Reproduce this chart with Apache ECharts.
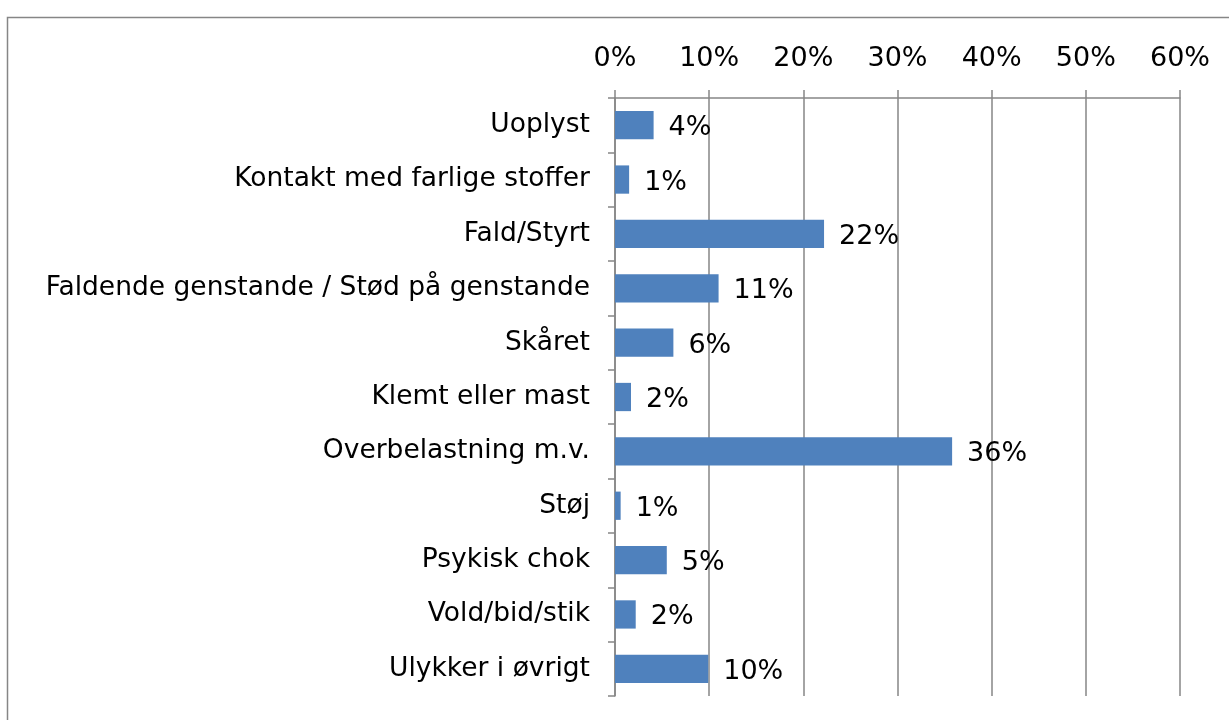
<!DOCTYPE html>
<html>
<head>
<meta charset="utf-8">
<script src="https://cdn.jsdelivr.net/npm/echarts@6/dist/echarts.min.js"></script>
<style>
  html, body { margin: 0; padding: 0; background: #fff; }
  #main { width: 1229px; height: 720px; }
</style>
</head>
<body>
<div id="main"></div>
<script>
// kategorier, oppefra og ned
var categories = [
    'Uoplyst',
    'Kontakt med farlige stoffer',
    'Fald/Styrt',
    'Faldende genstande / Stød på genstande',
    'Skåret',
    'Klemt eller mast',
    'Overbelastning m.v.',
    'Støj',
    'Psykisk chok',
    'Vold/bid/stik',
    'Ulykker i øvrigt'
];
// andele i procent (aflæst fra søjlerne)
var values = [4.1, 1.5, 22.2, 11.0, 6.2, 1.7, 35.8, 0.6, 5.5, 2.2, 9.9];
// tekst ved søjlerne
var valueLabels = ['4%', '1%', '22%', '11%', '6%', '2%', '36%', '1%', '5%', '2%', '10%'];
var tickLabels = ['0%', '10%', '20%', '30%', '40%', '50%', '60%'];

var myChart = echarts.init(document.getElementById('main'));
var font = 'Verdana, "DejaVu Sans", sans-serif';

myChart.setOption({
    animation: false,
    textStyle: { fontFamily: font },
    graphic: [{
        type: 'rect',
        shape: { x: 7.5, y: 17.5, width: 1240, height: 720 },
        style: { fill: 'none', stroke: '#868686', lineWidth: 1.5 }
    }],
    grid: { left: 615, right: 49, top: 98, bottom: 24 },
    xAxis: {
        type: 'value',
        position: 'top',
        min: 0,
        max: 60,
        interval: 10,
        axisLine: { show: true, lineStyle: { color: '#868686', width: 1.5 } },
        axisTick: { show: true, length: 8, lineStyle: { color: '#868686', width: 1.5 } },
        splitLine: { show: true, lineStyle: { color: '#868686', width: 1.5 } },
        axisLabel: {
            color: '#000',
            fontSize: 27,
            fontFamily: font,
            margin: 26,
            formatter: function (v) { return tickLabels[Math.round(v / 10)]; }
        }
    },
    yAxis: {
        type: 'category',
        inverse: true,
        data: categories,
        axisLine: { show: true, lineStyle: { color: '#868686', width: 1.5 } },
        axisTick: { show: true, length: 7, lineStyle: { color: '#868686', width: 1.5 } },
        axisLabel: { color: '#000', fontSize: 26.5, fontFamily: font, margin: 25 }
    },
    series: [{
        type: 'bar',
        data: values,
        barCategoryGap: '48%',
        itemStyle: { color: '#4F81BD' },
        label: {
            show: true,
            position: 'right',
            distance: 15,
            color: '#000',
            fontSize: 27,
            fontFamily: font,
            offset: [0, 3],
            formatter: function (p) { return valueLabels[p.dataIndex]; }
        }
    }]
});
</script>
</body>
</html>
